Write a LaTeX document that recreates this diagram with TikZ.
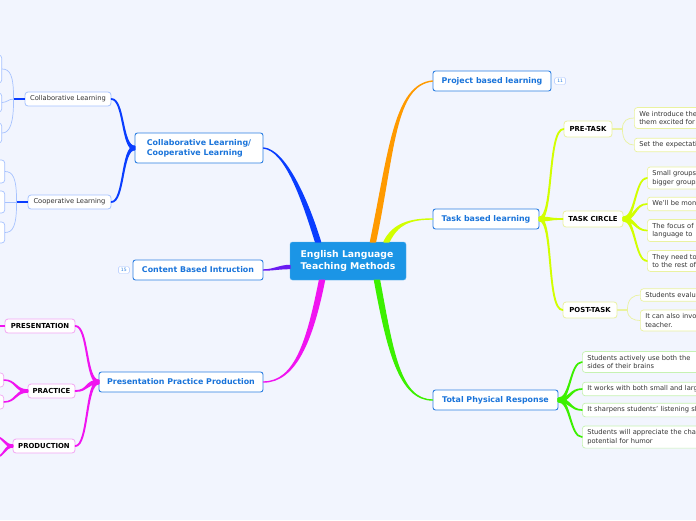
\documentclass[tikz,border=0pt]{standalone}
\usepackage{fontspec}
\setmainfont{DejaVu Sans}
\usetikzlibrary{positioning,calc}
\definecolor{bgcol}{HTML}{F2F5FE}
\definecolor{hubblue}{HTML}{1B95E6}
\definecolor{topicline}{HTML}{2C7FE2}
\definecolor{topictext}{HTML}{1A74DA}
\definecolor{orangeb}{HTML}{FF9A00}
\definecolor{limeb}{HTML}{D2FF00}
\definecolor{greenb}{HTML}{3CF000}
\definecolor{blueb}{HTML}{0A3DFF}
\definecolor{violetb}{HTML}{6A1CF2}
\definecolor{magb}{HTML}{F014F0}
\definecolor{paleblue}{HTML}{A6C2FF}
\definecolor{paleyellow}{HTML}{EAF2A0}
\definecolor{palegreen}{HTML}{C6F2B2}
\definecolor{palemag}{HTML}{F3A6F3}
\definecolor{leaftext}{HTML}{333333}
% tapered branch: [end width] colour, start A, start B, control out, control in, end
\newcommand{\branch}[7][1.4pt]{%
  \filldraw[#2,line width=#1,line join=round] #3 .. controls +#5 and +#6 .. #7
    .. controls +#6 and +#5 .. #4 -- cycle;}

\begin{document}
\begin{tikzpicture}[x=1pt,y=-1pt,font=\fontsize{6.7}{8.5}\selectfont]
  % page = screen capture, 696 x 520
  \useasboundingbox (0,0) rectangle (696,520);
  \fill[bgcol] (0,0) rectangle (696,520);
  \clip (0,0) rectangle (696,520);
  \tikzset{
    hub/.style={fill=hubblue,draw=hubblue!75!white,rounded corners=2.5pt,text=white,align=left,
      font=\fontsize{9.3}{12}\selectfont\bfseries,minimum width=116pt,minimum height=38pt},
    topic/.style={fill=white,draw=topicline,line width=0.9pt,rounded corners=2.5pt,text=topictext,
      font=\fontsize{7.9}{10.3}\selectfont\bfseries,minimum height=20pt,inner sep=0pt},
    sub/.style={draw=#1,fill=white,line width=0.8pt,rounded corners=3pt,inner sep=0pt,
      minimum height=14pt},
    plain/.style={sub=paleblue,text=leaftext},
    caps/.style={sub=#1,font=\fontsize{6.9}{8.5}\selectfont\bfseries},
    leaf/.style={draw=#1,fill=white,line width=0.7pt,rounded corners=3pt,anchor=west,align=left,
      text width=140pt,inner xsep=5pt,inner ysep=3.6pt,text=leaftext},
    stub/.style={draw=#1,fill=white,line width=0.7pt,rounded corners=3pt,anchor=east,
      minimum width=40pt},
    badge/.style={draw=paleblue,fill=white,rounded corners=1.5pt,text=topicline,
      font=\fontsize{4.5}{5}\selectfont,minimum width=11pt,minimum height=7pt,inner sep=0pt},
    twig/.style={#1,line width=0.7pt},
  }
  % central topic
  \node[hub] (elt) at (348,261) {English Language\\Teaching Methods};
  % main topics
  \node[topic,minimum width=118pt] (pbl) at (492,81) {Project based learning};
  \node[badge,right=3pt of pbl] (pblcount) {11};
  \node[topic,minimum width=106pt] (tbl) at (486,219) {Task based learning};
  \node[topic,minimum width=125pt] (tpr) at (495.5,400) {Total Physical Response};
  \node[topic,minimum width=128pt,minimum height=30pt,align=left] (clcl) at (199,148)
    {Collaborative Learning/\\Cooperative Learning};
  \node[topic,minimum width=130pt] (cbi) at (198,270) {Content Based Intruction};
  \node[badge,left=3pt of cbi] (cbicount) {15};
  \node[topic,minimum width=164pt] (ppp) at (181,382) {Presentation Practice Production};

  % second level
  \node[plain,minimum width=86pt] (clb) at (68,99) {Collaborative Learning};
  \node[plain,minimum width=83pt] (cop) at (69.5,202) {Cooperative Learning};
  \node[caps=paleyellow,minimum width=48pt,minimum height=16pt] (pre) at (588,129) {PRE-TASK};
  \node[caps=paleyellow,minimum width=60pt,minimum height=16pt] (tc) at (593,219) {TASK CIRCLE};
  \node[caps=paleyellow,minimum width=54pt,minimum height=16pt] (post) at (590,310) {POST-TASK};
  \node[caps=palemag,minimum width=70pt] (pres) at (40,326) {PRESENTATION};
  \node[caps=palemag,minimum width=47pt] (prac) at (51.5,391) {PRACTICE};
  \node[caps=palemag,minimum width=62pt] (prod) at (44,446) {PRODUCTION};

  % leaves, cut by the right edge
  \node[leaf=paleyellow] (pre1) at (634,118) {We introduce the\\them excited for};
  \node[leaf=paleyellow] (pre2) at (634,145) {Set the expectations};
  \node[leaf=paleyellow] (tc1) at (647,178) {Small groups\\bigger groups};
  \node[leaf=paleyellow] (tc2) at (647,204) {We'll be monitoring};
  \node[leaf=paleyellow] (tc3) at (647,230.5) {The focus of\\language to};
  \node[leaf=paleyellow] (tc4) at (647,261) {They need to\\to the rest of};
  \node[leaf=paleyellow] (post1) at (640,295) {Students evaluate};
  \node[leaf=paleyellow] (post2) at (640,320.5) {It can also involve\\teacher.};
  \node[leaf=palegreen] (tpr1) at (582,362) {Students actively use both the\\sides of their brains};
  \node[leaf=palegreen] (tpr2) at (582,389) {It works with both small and large};
  \node[leaf=palegreen] (tpr3) at (582,410) {It sharpens students' listening skills};
  \node[leaf=palegreen] (tpr4) at (582,437) {Students will appreciate the chance\\potential for humor};

  % leaves, cut by the left edge
  \node[stub=paleblue,minimum height=28pt] (cl1) at (2,69) {};
  \node[stub=paleblue,minimum height=19pt] (cl2) at (2,102.5) {};
  \node[stub=paleblue,minimum height=20pt] (cl3) at (2,133) {};
  \node[stub=paleblue,minimum height=23pt] (cp1) at (5,171.5) {};
  \node[stub=paleblue,minimum height=22pt] (cp2) at (5,202) {};
  \node[stub=paleblue,minimum height=21pt] (cp3) at (5,232.5) {};
  \node[stub=palemag,minimum height=14pt] (pr1) at (4,380) {};
  \node[stub=palemag,minimum height=14pt] (pr2) at (4,402) {};
  \coordinate (pd1) at (-4,437);
  \coordinate (pd2) at (-4,457);
  \coordinate (ps1) at (-4,326);

  % main branches, thick at the hub
  \branch{orangeb}{([xshift=22.5pt]elt.north)}{([xshift=27.5pt]elt.north)}{(19,-92)}{(-38,4)}{(pbl.west)}
  \branch{limeb}{([xshift=36pt]elt.north)}{([xshift=41pt]elt.north)}{(9,-18)}{(-23,0)}{(tbl.west)}
  \branch{greenb}{([xshift=26.5pt]elt.south)}{([xshift=31.5pt]elt.south)}{(13,70)}{(-33,0)}{(tpr.west)}
  \branch{blueb}{([xshift=-32.5pt]elt.north)}{([xshift=-27.5pt]elt.north)}{(-13,-42)}{(22,2)}{(clcl.east)}
  \branch{magb}{([xshift=-28.5pt]elt.south)}{([xshift=-23.5pt]elt.south)}{(-12,60)}{(32,0)}{(ppp.east)}
  \branch{violetb}{([yshift=-4.5pt]elt.west)}{([yshift=-7.5pt]elt.west)}{(-10,0)}{(10,0)}{(cbi.east)}

  % second level branches
  \foreach \t in {pre,tc,post}
    {\branch[1.8pt]{limeb}{([yshift=1.5pt]tbl.east)}{([yshift=-1.5pt]tbl.east)}{(14,0)}{(-16,0)}{(\t.west)}}
  \foreach \t in {tc1,tc2,tc3,tc4}
    {\branch[1.6pt]{limeb}{([yshift=1.5pt]tc.east)}{([yshift=-1.5pt]tc.east)}{(12,0)}{(-12,0)}{(\t.west)}}
  \foreach \t in {tpr1,tpr2,tpr3,tpr4}
    {\branch[1.6pt]{greenb}{([yshift=1.5pt]tpr.east)}{([yshift=-1.5pt]tpr.east)}{(12,0)}{(-12,0)}{(\t.west)}}
  \foreach \t in {clb,cop}
    {\branch[1.8pt]{blueb}{([yshift=1.5pt]clcl.west)}{([yshift=-1.5pt]clcl.west)}{(-13,0)}{(13,0)}{(\t.east)}}
  \foreach \t in {pres,prac,prod}
    {\branch[1.8pt]{magb}{([yshift=1.5pt]ppp.west)}{([yshift=-1.5pt]ppp.west)}{(-13,0)}{(13,0)}{(\t.east)}}
  \foreach \t in {pr1,pr2}
    {\branch[1.5pt]{magb}{([yshift=1pt]prac.west)}{([yshift=-1pt]prac.west)}{(-12,0)}{(12,0)}{(\t.east)}}
  \foreach \t in {pd1,pd2}
    {\branch[1.5pt]{magb}{([yshift=1pt]prod.west)}{([yshift=-1pt]prod.west)}{(-8,0)}{(8,0)}{(\t)}}
  \draw[magb,line width=1.8pt] (pres.west) -- (ps1);

  % thin braces to the leaves
  \draw[twig=blueb,line width=1.2pt] (clb.west) -- ++(-11,0) coordinate (clbj);
  \draw[twig=paleblue] (clbj) .. controls +(0,-24) and +(8,0) .. (cl1.east);
  \draw[twig=paleblue] (clbj) .. controls +(-5,0) and +(5,0) .. (cl2.east);
  \draw[twig=paleblue] (clbj) .. controls +(0,24) and +(8,0) .. (cl3.east);
  \draw[twig=blueb,line width=1.2pt] (cop.west) -- ++(-11,0) coordinate (copj);
  \draw[twig=paleblue] (copj) .. controls +(0,-24) and +(8,0) .. (cp1.east);
  \draw[twig=paleblue] (copj) -- (cp2.east);
  \draw[twig=paleblue] (copj) .. controls +(0,24) and +(8,0) .. (cp3.east);
  \draw[twig=paleyellow,line width=2pt] (pre.east) -- ++(10,0) coordinate (prej);
  \draw[twig=paleyellow] (prej) .. controls +(0,-9) and +(-6,0) .. (pre1.west);
  \draw[twig=paleyellow] (prej) .. controls +(0,12) and +(-6,0) .. (pre2.west);
  \draw[twig=paleyellow,line width=2pt] (post.east) -- ++(10,0) coordinate (postj);
  \draw[twig=paleyellow] (postj) .. controls +(0,-12) and +(-6,0) .. (post1.west);
  \draw[twig=paleyellow] (postj) .. controls +(0,8) and +(-6,0) .. (post2.west);
\end{tikzpicture}
\end{document}
